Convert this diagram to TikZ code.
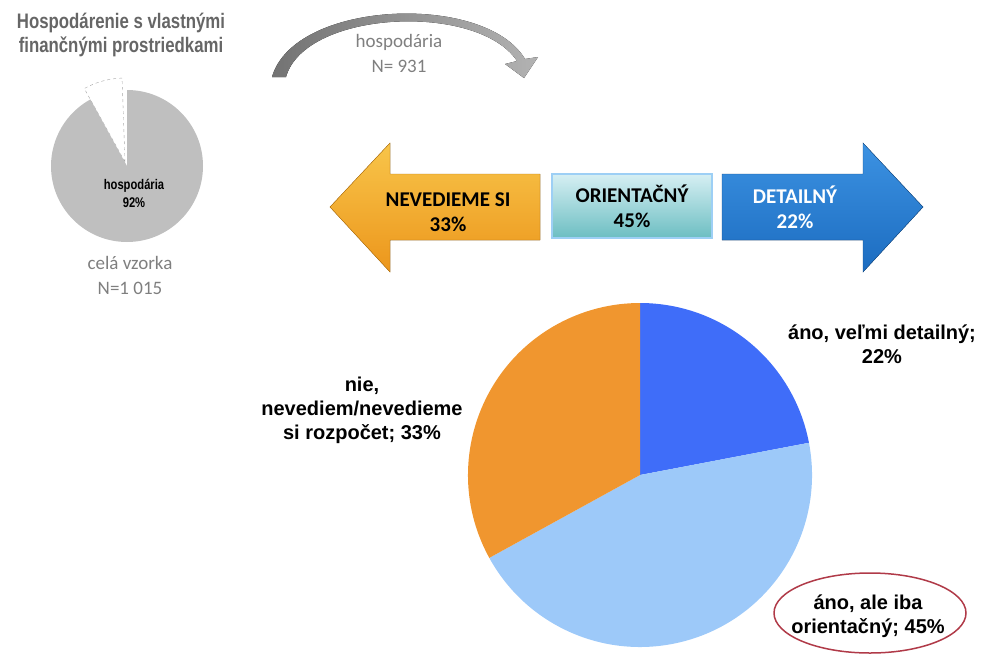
\documentclass[tikz,border=0pt]{standalone}
\usepackage{fontspec}
\setmainfont{Liberation Sans}
\newfontfamily\calibri{Carlito}
\newfontfamily\narrowsans{Liberation Sans}[FakeStretch=0.8]
\usetikzlibrary{positioning,shapes.geometric}

\definecolor{pieblue}{HTML}{3F6DF9}
\definecolor{pielight}{HTML}{9DC9F9}
\definecolor{pieorange}{HTML}{F0962F}
\definecolor{piegray}{HTML}{BFBFBF}
\definecolor{textgray}{HTML}{7F7F7F}
\definecolor{titlegray}{HTML}{666666}
\definecolor{ovalred}{HTML}{B03A48}
\definecolor{arrowgold}{HTML}{F8C54A}
\definecolor{arrowamber}{HTML}{EC961C}
\definecolor{arrowbrown}{HTML}{B8740E}
\definecolor{arrowsky}{HTML}{3C92E2}
\definecolor{arrowblue}{HTML}{1C6CC0}
\definecolor{arrownavy}{HTML}{164E8A}
\definecolor{boxtop}{HTML}{D6EFF3}
\definecolor{boxbottom}{HTML}{6CBEC2}
\definecolor{boxedge}{HTML}{9DCFF5}

\begin{document}
\begin{tikzpicture}[x=1pt,y=-1pt,
  slicelabel/.style={font=\bfseries\fontsize{20}{24}\selectfont, align=center},
  countlabel/.style={font=\calibri\fontsize{19}{25}\selectfont, text=textgray, align=center},
  arrowlabel/.style={font=\calibri\bfseries\fontsize{21}{25}\selectfont, align=center}]
  \useasboundingbox (0,0) rectangle (984,656);

  % whole sample: small pie with the slice pulled out
  \draw[gray!70, dashed, fill=white] (125,162) -- ++(92:84pt)
    arc[start angle=92, end angle=119, radius=84pt] -- cycle;
  \coordinate (sc) at (127,166);
  \fill[piegray] (sc) -- ++(90:76pt)
    arc[start angle=90, end angle=-241.2, radius=76pt] -- cycle;
  \node[font=\narrowsans\bfseries\fontsize{21}{24}\selectfont, text=titlegray, align=center]
    (title) at (121,35) {Hospodárenie s vlastnými\\finančnými prostriedkami};
  \node[font=\narrowsans\bfseries\fontsize{14}{18}\selectfont, align=center] (hosp) at (134,193) {hospodária\\92\%};
  \node[countlabel] (whole) at (130,275) {celá vzorka\\N=1 015};

  % curved arrow over to the farming households
  \fill[left color=black!55, right color=black!30] (272,77)
    .. controls (294,0) and (485,-8) .. (525,59) -- (538,57) -- (524,78) -- (505,64) -- (517,61)
    .. controls (478,2) and (305,10) .. (286,77) -- cycle;
  \node[countlabel] (farm) at (399,53) {hospodária\\N= 931};

  % three arrows
  \fill[top color=arrowgold, bottom color=arrowamber, draw=arrowbrown]
    (330,207) -- (390,143) -- (390,174) -- (540,174) -- (540,240) -- (390,240) -- (390,272) -- cycle;
  \node[arrowlabel] (nosi) at (448,212) {NEVEDIEME SI\\33\%};
  \node[arrowlabel, draw=boxedge, line width=1.5pt, top color=boxtop, bottom color=boxbottom,
    minimum width=160pt, minimum height=64pt] (orient) at (632,206) {ORIENTAČNÝ\\45\%};
  \fill[top color=arrowsky, bottom color=arrowblue, draw=arrownavy]
    (722,174) -- (863,174) -- (863,143) -- (923,207) -- (863,272) -- (863,240) -- (722,240) -- cycle;
  \node[arrowlabel, text=white] (detail) at (795,207) {DETAILNÝ\\22\%};

  % big pie
  \coordinate (bc) at (640,475);
  \foreach \a/\b/\c in {90/10.8/pieblue, 10.8/-151.2/pielight, -151.2/-270/pieorange}
    \fill[\c] (bc) -- ++(\a:172pt) arc[start angle=\a, end angle=\b, radius=172pt] -- cycle;

  \node[slicelabel] (detlab) at (882,344) {áno, veľmi detailný;\\22\%};
  \node[slicelabel] (nolab) at (362,410) {nie,\\nevediem/nevedieme\\si rozpočet; 33\%};
  \node[slicelabel] (orlab) at (868,616) {áno, ale iba\\orientačný; 45\%};
  \draw[ovalred, line width=1.5pt] (orlab.center) ++(2,-3) ellipse[x radius=96pt, y radius=40pt];
\end{tikzpicture}
\end{document}
